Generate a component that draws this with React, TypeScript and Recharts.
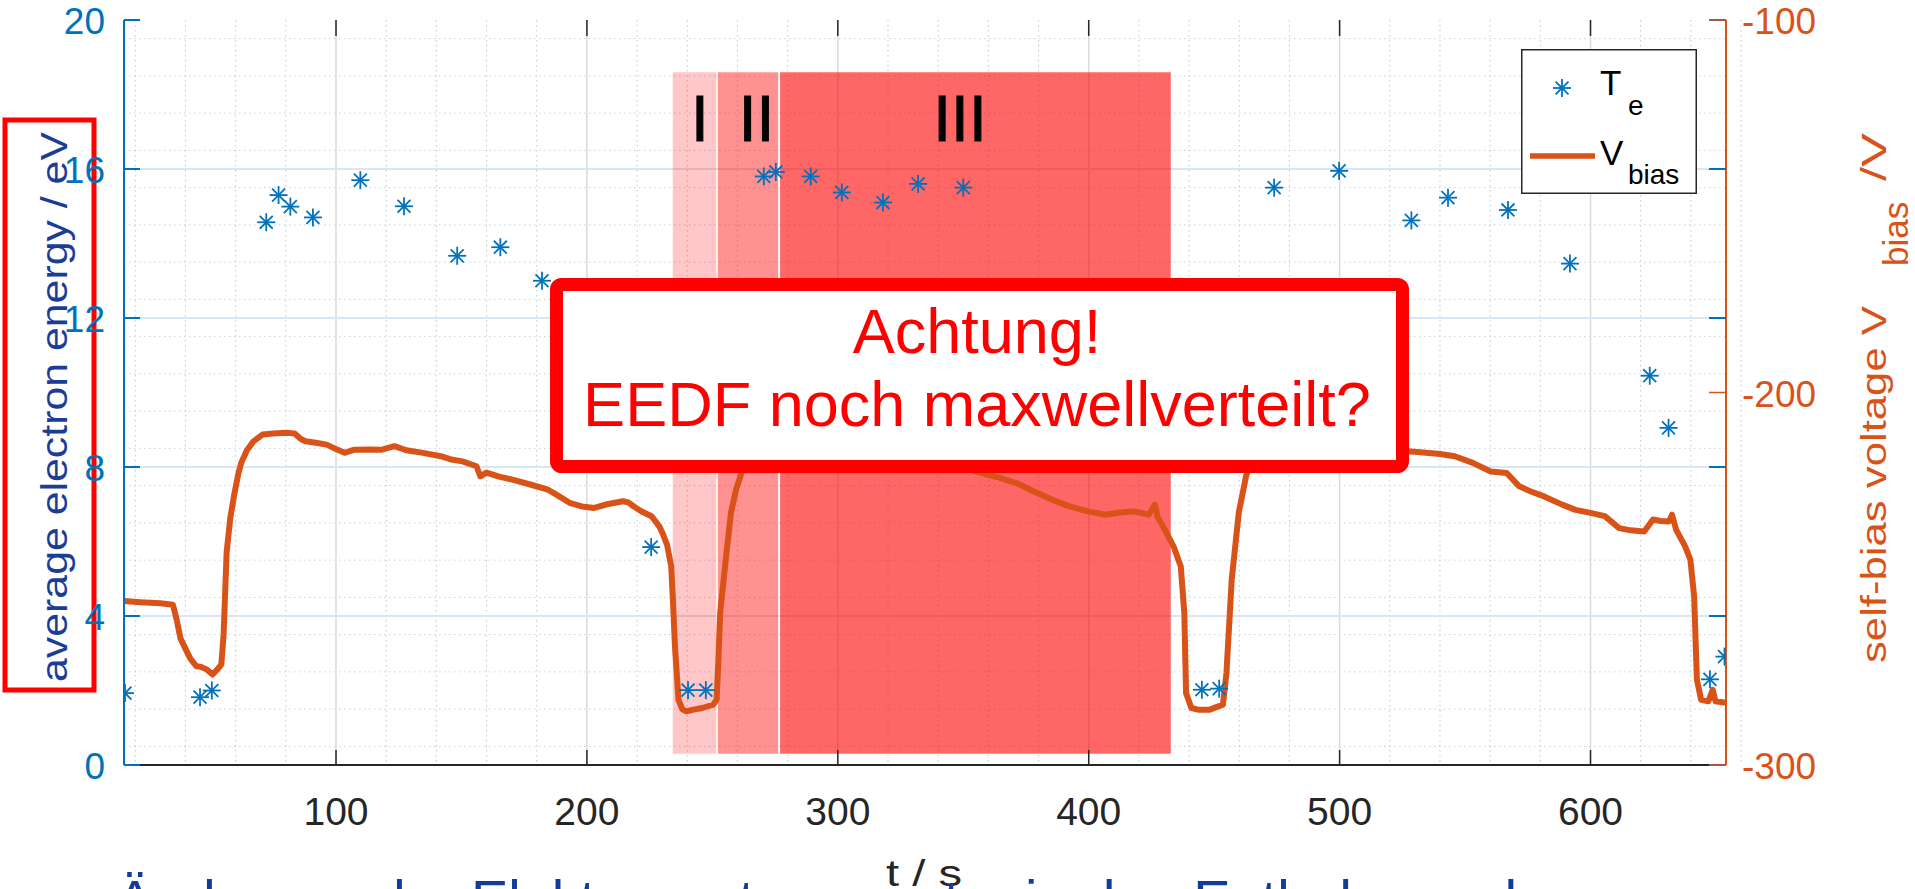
import React from "react";
import {
  CartesianGrid,
  ComposedChart,
  Legend,
  Line,
  ReferenceArea,
  Scatter,
  XAxis,
  YAxis,
} from "recharts";

// canvas and plot box
const W = 1915;
const H = 889;
const PLOT_LEFT = 124;
const PLOT_RIGHT = 1726;
const PLOT_TOP = 20;
const PLOT_BOTTOM = 765;

const BLUE = "#0072BD";
const ORANGE = "#D95319";
const AXIS = "#262626";
const SANS = "'Liberation Sans', Arial, sans-serif";

// average electron energy T_e (eV)
const teTimes = [
  15.9, 45.8, 50.5, 72.2, 77.1, 81.8, 90.8, 109.7, 127.1, 148.3, 165.5, 182.1,
  225.6, 240.3, 247.4, 270.5, 275.3, 289.2, 301.6, 318.0, 332.0, 350.0, 445.1,
  452.0, 473.9, 499.8, 528.6, 543.2, 567.1, 591.8, 623.6, 631.1, 647.6, 653.4,
];
const teValues = [
  1.93, 1.82, 2.0, 14.57, 15.3, 14.99, 14.7, 15.7, 15.0, 13.67, 13.9, 13.0,
  5.85, 2.01, 2.01, 15.8, 15.92, 15.8, 15.37, 15.1, 15.6, 15.5, 2.02,
  2.05, 15.5, 15.95, 14.62, 15.23, 14.9, 13.46, 10.45, 9.05, 2.3, 2.91,
];

// self-bias voltage V_bias (V)
const biasTimes = [
  15.5, 22, 30, 35, 36.5, 38, 40.8, 42, 44.4, 46, 48.6, 50.8, 52.5, 54.3, 55.2,
  56.4, 57.8, 59.3, 61, 62.2, 64.5, 67.1, 70.7, 75, 80, 83.5, 86, 87.8, 92,
  96.3, 100, 103.4, 107, 113.4, 118, 123.3, 128, 134.7, 141.8, 146, 150.4, 156,
  157.5, 160, 165, 170.3, 177.4, 184.5, 188, 193.1, 198, 203, 208, 214.4, 216.5,
  218.7, 222, 225.8, 228.9, 230.1, 232, 233.6, 234.3, 235.1, 236.5, 238, 239.6,
  242, 246, 250.3, 251.7, 252.4, 253.1, 255.2, 257.4, 259.5, 261.6, 264, 268,
  275, 290, 310, 330, 345, 357, 364, 371.2, 378, 385.5, 392, 399.7, 406.8, 412,
  418.2, 423.9, 426.4, 427.5, 429.6, 433.8, 436.7, 438.1, 438.8, 440.9, 444,
  448, 453.5, 454.9, 457, 459.8, 462.7, 466, 472, 480, 495, 510, 520, 527.4,
  534.5, 540, 545.9, 553.1, 560.2, 566.6, 571.6, 576, 581.5, 588.7, 594, 600,
  605.7, 611.4, 616, 621.4, 624.9, 628, 631.3, 632.5, 634.1, 637.7, 639.8,
  641.3, 642.4, 644.1, 647, 648.7, 649.8, 654,
];
const biasValues = [
  -256.0, -256.3, -256.6, -257, -261, -266, -269.9, -271.5, -273.5, -273.6,
  -274.4, -275.7, -274.5, -273, -265, -243, -234, -227.9, -222, -218.9, -215.5,
  -213.1, -211.3, -211, -210.8, -211, -212.5, -213.1, -213.5, -214, -215.2,
  -216.2, -215.4, -215.3, -215.4, -214.4, -215.5, -216.2, -217.1, -218, -218.5,
  -219.8, -222.5, -221.5, -222.6, -223.4, -224.7, -226.1, -227.5, -229.6,
  -230.6, -231, -230, -229.2, -229.5, -230.6, -232, -233.2, -236, -237.7, -241,
  -246.7, -256, -268.2, -282.5, -285, -285.6, -285.2, -284.7, -283.8, -282.5,
  -272, -259.2, -245.8, -232.3, -226, -221.6, -216, -212, -211, -213, -215,
  -217, -219, -221.6, -222.8, -224.3, -226.5, -228.8, -230.5, -231.9, -232.8,
  -232.3, -231.9, -232.8, -230.1, -233.5, -235.9, -241.3, -246.7, -259.2,
  -280.7, -284.7, -285.2, -285.2, -283.8, -275.3, -250.2, -232.3, -222.5, -216,
  -212, -211, -212, -214, -215, -215.8, -216.2, -216.5, -217.1, -218.9, -221.2,
  -221.6, -225.2, -226.5, -227.9, -230.1, -231.5, -232.3, -233.2, -236.4, -237,
  -237.3, -234.1, -234.5, -234.6, -232.8, -236.8, -241.3, -244.9, -254.7,
  -277.1, -282.5, -282.9, -279.8, -282.9, -283.3,
];

const xTicks = [100, 200, 300, 400, 500, 600];
const leftTicks = [0, 4, 8, 12, 16, 20];
const rightTicks = [-300, -200, -100];
const X_DOMAIN = [15.5, 654];

// shaded phases
const phaseNames = ["I", "II", "III"];
const phaseStart = [234.2, 252.2, 277.0];
const phaseEnd = [251.6, 276.2, 432.7];
const phaseLabelT = [245, 267.6, 348.7];
const phaseOpacity = [0.22, 0.43, 0.6];
const phaseBottom = 0.3;
const phaseTop = 18.6;

const minorX = Array.from({ length: 33 }, (_, i) => (i + 1) * 20).filter((v) => v % 100 !== 0);
const minorY = Array.from({ length: 39 }, (_, i) => (i + 1) * 0.5).filter((v) => v % 4 !== 0);

const teData = teTimes.map((t, i) => ({ t, te: teValues[i] }));
const biasData = biasTimes.map((t, i) => ({ t, v: biasValues[i] }));

const Asterisk = ({ cx, cy, color = BLUE }: any) => {
  if (cx == null || cy == null) return null;
  const r = 9;
  const d = r * 0.72;
  return (
    <g stroke={color} strokeWidth={1.8}>
      <line x1={cx} x2={cx} y1={cy - r} y2={cy + r} />
      <line x1={cx - r} x2={cx + r} y1={cy} y2={cy} />
      <line x1={cx - d} x2={cx + d} y1={cy - d} y2={cy + d} />
      <line x1={cx - d} x2={cx + d} y1={cy + d} y2={cy - d} />
    </g>
  );
};

const BottomTick = (props: any) => {
  const { x, y, payload } = props;
  return (
    <g>
      <line x1={x} x2={x} y1={y} y2={y - 15} stroke={AXIS} strokeWidth={1.5} />
      <line x1={x} x2={x} y1={PLOT_TOP} y2={PLOT_TOP + 16} stroke={AXIS} strokeWidth={1.5} />
      <text x={x} y={y + 60} textAnchor="middle" fontSize={39} fill={AXIS} fontFamily={SANS}>
        {payload.value}
      </text>
    </g>
  );
};

const LeftTick = (props: any) => {
  const { x, y, payload } = props;
  return (
    <g>
      <line x1={x} x2={x + 16} y1={y} y2={y} stroke={BLUE} strokeWidth={2} />
      <line x1={PLOT_RIGHT - 17} x2={PLOT_RIGHT} y1={y} y2={y} stroke={BLUE} strokeWidth={2} />
      <text x={x - 19} y={y + 14} textAnchor="end" fontSize={37} fill={BLUE} fontFamily={SANS}>
        {payload.value}
      </text>
    </g>
  );
};

const RightTick = (props: any) => {
  const { x, y, payload } = props;
  return (
    <g>
      <line x1={x - 17} x2={x} y1={y} y2={y} stroke={ORANGE} strokeWidth={1.5} />
      <text x={x + 16} y={y + 14} textAnchor="start" fontSize={37} fill={ORANGE} fontFamily={SANS}>
        {payload.value}
      </text>
    </g>
  );
};

// y label sits in a white box with a red frame that hides part of the tick labels
const LeftLabel = () => (
  <g>
    <rect x={5} y={120} width={89} height={570} fill="#fff" stroke="#FF0000" strokeWidth={5} />
    <text
      transform="translate(67, 682) rotate(-90)"
      fontSize={37}
      fill="#1B3D98"
      fontFamily={SANS}
      textLength={550}
      lengthAdjust="spacingAndGlyphs"
    >
      average electron energy / eV
    </text>
  </g>
);

const RightLabel = () => (
  <text transform="translate(1886, 663) rotate(-90)" fontSize={35} fill={ORANGE} fontFamily={SANS}>
    <tspan x={0} y={0} textLength={357} lengthAdjust="spacingAndGlyphs">
      self-bias voltage V
    </tspan>
    <tspan x={397} y={22}>bias</tspan>
    <tspan x={482} y={0} textLength={48} lengthAdjust="spacingAndGlyphs">
      /V
    </tspan>
  </text>
);

const BottomLabel = () => (
  <text
    x={924}
    y={886}
    textAnchor="middle"
    fontSize={37}
    fill={AXIS}
    fontFamily={SANS}
    textLength={76}
    lengthAdjust="spacingAndGlyphs"
  >
    t / s
  </text>
);

const phaseLabel = (i: number) => (props: any) => {
  const vb = props.viewBox;
  if (!vb) return null;
  const frac = (phaseLabelT[i] - phaseStart[i]) / (phaseEnd[i] - phaseStart[i]);
  return (
    <text
      x={vb.x + frac * vb.width}
      y={vb.y + 69}
      textAnchor="middle"
      fontSize={64}
      fill="#000"
      stroke="#000"
      strokeWidth={1}
      fontFamily={SANS}
    >
      {phaseNames[i]}
    </text>
  );
};

const LegendBox = () => (
  <svg width={176} height={145} style={{ display: "block" }}>
    <rect x={0.75} y={0.75} width={174.5} height={143.5} fill="#fff" stroke={AXIS} strokeWidth={1.5} />
    <Asterisk cx={41} cy={39} />
    <text x={79} y={46} fontSize={35} fill="#000" fontFamily={SANS}>T</text>
    <text x={107} y={66} fontSize={28} fill="#000" fontFamily={SANS}>e</text>
    <line x1={9} x2={74} y1={107} y2={107} stroke={ORANGE} strokeWidth={5.5} />
    <text x={79} y={116} fontSize={35} fill="#000" fontFamily={SANS}>V</text>
    <text x={107} y={135} fontSize={28} fill="#000" fontFamily={SANS}>bias</text>
  </svg>
);

export default function App() {
  return (
    <div
      style={{
        position: "absolute",
        left: 0,
        top: 0,
        width: W,
        height: H,
        overflow: "hidden",
        background: "#fff",
      }}
    >
      <ComposedChart width={W} height={H} margin={{ top: PLOT_TOP, right: 0, bottom: 0, left: 0 }}>
        <CartesianGrid horizontal={false} verticalValues={minorX} stroke="#c6c6c6" strokeDasharray="1.5 3.5" />
        <CartesianGrid vertical={false} yAxisId="left" horizontalValues={minorY} stroke="#bcd4e8" strokeDasharray="1.5 3.5" />
        <CartesianGrid horizontal={false} verticalValues={xTicks} stroke="#dadada" strokeWidth={1.5} />
        <CartesianGrid vertical={false} yAxisId="left" horizontalValues={[4, 8, 12, 16]} stroke="#d8e7f3" strokeWidth={2} />

        <XAxis
          dataKey="t"
          type="number"
          domain={X_DOMAIN}
          ticks={xTicks}
          allowDataOverflow
          height={H - PLOT_BOTTOM}
          tickSize={0}
          tickMargin={0}
          tickLine={false}
          tick={<BottomTick />}
          axisLine={{ stroke: AXIS, strokeWidth: 2 }}
          label={<BottomLabel />}
        />
        <XAxis
          xAxisId="top"
          orientation="top"
          type="number"
          domain={X_DOMAIN}
          allowDataOverflow
          height={0}
          tick={false}
          tickLine={false}
          axisLine={{ stroke: AXIS, strokeWidth: 2 }}
        />
        <YAxis
          yAxisId="left"
          type="number"
          domain={[0, 20]}
          ticks={leftTicks}
          width={PLOT_LEFT}
          tickSize={0}
          tickMargin={0}
          tickLine={false}
          tick={<LeftTick />}
          axisLine={{ stroke: BLUE, strokeWidth: 2 }}
          label={<LeftLabel />}
        />
        <YAxis
          yAxisId="right"
          orientation="right"
          type="number"
          domain={[-300, -100]}
          ticks={rightTicks}
          width={W - PLOT_RIGHT}
          tickSize={0}
          tickMargin={0}
          tickLine={false}
          tick={<RightTick />}
          axisLine={{ stroke: ORANGE, strokeWidth: 2 }}
          label={<RightLabel />}
        />

        {phaseNames.map((name, i) => (
          <ReferenceArea
            key={name}
            yAxisId="left"
            x1={phaseStart[i]}
            x2={phaseEnd[i]}
            y1={phaseBottom}
            y2={phaseTop}
            fill="#FF0000"
            fillOpacity={phaseOpacity[i]}
            stroke="none"
            label={phaseLabel(i)}
          />
        ))}

        <Line
          data={biasData}
          dataKey="v"
          yAxisId="right"
          type="linear"
          stroke={ORANGE}
          strokeWidth={6}
          strokeLinejoin="round"
          dot={false}
          activeDot={false}
          isAnimationActive={false}
          name="V_bias"
        />
        <Scatter
          data={teData}
          dataKey="te"
          yAxisId="left"
          shape={<Asterisk />}
          isAnimationActive={false}
          name="T_e"
        />

        <Legend
          layout="horizontal"
          verticalAlign="middle"
          align="center"
          content={<LegendBox />}
          wrapperStyle={{ left: 1521, top: 49, width: 176, height: 145 }}
        />
      </ComposedChart>

      <svg
        width={W}
        height={H}
        style={{ position: "absolute", left: 0, top: 0, pointerEvents: "none" }}
      >
        <rect x={556.5} y={284.5} width={846} height={182} rx={5} fill="#fff" stroke="#FF0000" strokeWidth={13} />
        <text x={977} y={353} textAnchor="middle" fontSize={63} fill="#FF0000" fontFamily={SANS}>
          Achtung!
        </text>
        <text x={977} y={426} textAnchor="middle" fontSize={63} fill="#FF0000" fontFamily={SANS}>
          EEDF noch maxwellverteilt?
        </text>
        <text x={116} y={919} fontSize={56} fill="#123C9C" fontFamily={SANS}>
          Änderung der Elektronentemperatur in den Entladungsphasen
        </text>
      </svg>
    </div>
  );
}
